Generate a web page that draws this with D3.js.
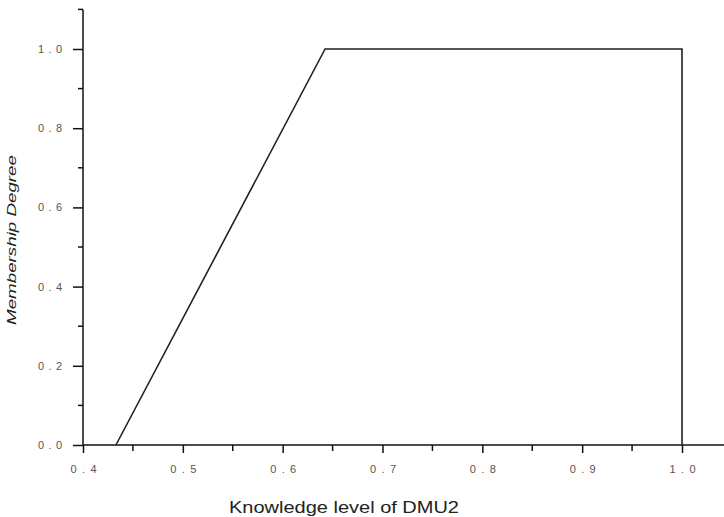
<!DOCTYPE html>
<html>
<head>
<meta charset="utf-8">
<script src="https://cdn.jsdelivr.net/npm/d3@7"></script>
<style>
  html, body { margin: 0; padding: 0; background: #fff; }
  svg { display: block; }
</style>
</head>
<body>
<svg id="chart" width="724" height="517"></svg>
<script>
// ---- data ----
const knowledge = [0.433, 0.6425, 1.0, 1.0];
const membership = [0.0, 1.0, 1.0, 0.0];
const xTickValues = [0.4, 0.5, 0.6, 0.7, 0.8, 0.9, 1.0];
const xMinorValues = [0.45, 0.55, 0.65, 0.75, 0.85, 0.95];
const yTickValues = [0.0, 0.2, 0.4, 0.6, 0.8, 1.0];
const yMinorValues = [0.1, 0.3, 0.5, 0.7, 0.9, 1.1];
const xTitle = "Knowledge level of DMU2";
const yTitle = "Membership Degree";

// ---- layout ----
const W = 724, H = 517;
const mLeft = 83, mRight = 682, mTop = 49, mBottom = 445;
const svg = d3.select("#chart");

const x = d3.scaleLinear().domain([0.4, 1.0]).range([mLeft, mRight]);
const y = d3.scaleLinear().domain([0, 1.0]).range([mBottom, mTop]);

const axisColor = "#111";
const labelColor = "#555";

// x axis
const gx = svg.append("g").attr("transform", `translate(0,${mBottom})`);
gx.call(d3.axisBottom(x).tickValues(xTickValues).tickSize(8).tickFormat(d3.format(".1f")).tickPadding(12));
gx.select(".domain").remove();
gx.selectAll(".tick line").attr("stroke", axisColor).attr("stroke-width", 1.5);
gx.selectAll(".tick text")
  .attr("fill", labelColor)
  .style("font-family", "Liberation Sans, Arial, sans-serif")
  .style("font-size", "11px")
  .attr("textLength", 26)
  .attr("lengthAdjust", "spacing");
gx.append("g").selectAll("line").data(xMinorValues).join("line")
  .attr("x1", d => x(d)).attr("x2", d => x(d))
  .attr("y1", 0).attr("y2", 6)
  .attr("stroke", axisColor).attr("stroke-width", 1.5);
gx.append("line")
  .attr("x1", mLeft).attr("x2", W).attr("y1", 0).attr("y2", 0)
  .attr("stroke", axisColor).attr("stroke-width", 1.5);

// y axis
const gy = svg.append("g").attr("transform", `translate(${mLeft},0)`);
gy.call(d3.axisLeft(y).tickValues(yTickValues).tickSize(10).tickFormat(d3.format(".1f")).tickPadding(11));
gy.select(".domain").remove();
gy.selectAll(".tick line").attr("stroke", axisColor).attr("stroke-width", 1.5);
gy.selectAll(".tick text")
  .attr("fill", labelColor)
  .style("font-family", "Liberation Sans, Arial, sans-serif")
  .style("font-size", "11px")
  .attr("textLength", 24)
  .attr("lengthAdjust", "spacing");
gy.append("g").selectAll("line").data(yMinorValues).join("line")
  .attr("x1", -5).attr("x2", 0)
  .attr("y1", d => y(d)).attr("y2", d => y(d))
  .attr("stroke", axisColor).attr("stroke-width", 1.5);
gy.append("line")
  .attr("x1", 0).attr("x2", 0).attr("y1", y(1.1)).attr("y2", mBottom)
  .attr("stroke", axisColor).attr("stroke-width", 1.5);

// membership line
const pts = knowledge.map((k, i) => [k, membership[i]]);
svg.append("path")
  .datum(pts)
  .attr("fill", "none")
  .attr("stroke", "#222")
  .attr("stroke-width", 1.6)
  .attr("d", d3.line().x(d => x(d[0])).y(d => y(d[1])));

// titles
svg.append("text")
  .attr("x", 344).attr("y", 513)
  .attr("text-anchor", "middle")
  .attr("fill", "#222")
  .style("font-family", "Liberation Sans, Arial, sans-serif")
  .style("font-size", "17px")
  .attr("textLength", 230)
  .attr("lengthAdjust", "spacingAndGlyphs")
  .text(xTitle);

svg.append("text")
  .attr("transform", `translate(16,240) rotate(-90)`)
  .attr("text-anchor", "middle")
  .attr("fill", "#222")
  .style("font-family", "Liberation Sans, Arial, sans-serif")
  .style("font-size", "13px")
  .style("font-style", "italic")
  .attr("textLength", 170)
  .attr("lengthAdjust", "spacingAndGlyphs")
  .text(yTitle);
</script>
</body>
</html>
